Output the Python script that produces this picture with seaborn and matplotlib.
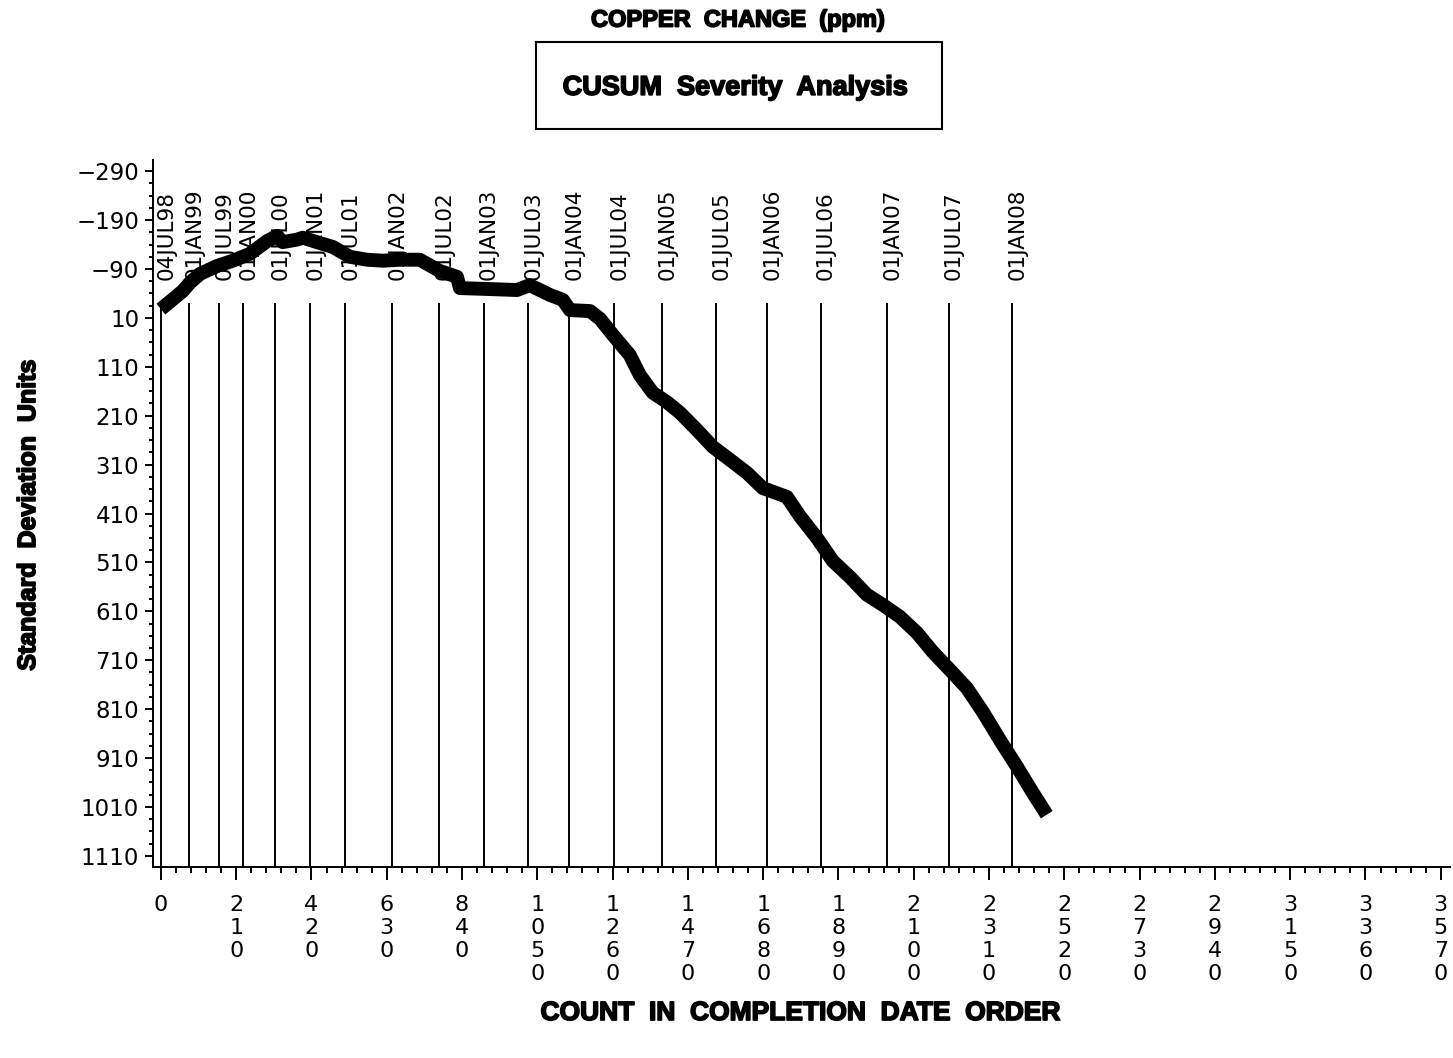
import numpy as np
import pandas as pd
import matplotlib.pyplot as plt
import matplotlib.ticker as mticker
import matplotlib.patheffects as pe
import seaborn as sns

# cusum trace (count, standard deviation units)
count = [0, 25, 61, 81, 109, 156, 201, 248, 296, 324, 340, 379, 396, 435, 480,
         527, 575, 619, 667, 722, 778, 826, 834, 918, 993, 1029, 1085, 1121,
         1141, 1197, 1225, 1261, 1308, 1336, 1372, 1411, 1448, 1495, 1540,
         1587, 1635, 1679, 1746, 1782, 1830, 1874, 1922, 1969, 2014, 2061,
         2109, 2153, 2201, 2248, 2293, 2340, 2388, 2432, 2471]
cusum = [-8, -23, -45, -62, -80, -96, -107, -121, -147, -158, -145, -150, -154,
         -145, -135, -115, -109, -107, -109, -109, -86, -74, -51, -49, -47,
         -57, -37, -27, -6, -4, 12, 45, 86, 127, 163, 182, 204, 239, 274, 300,
         327, 358, 376, 415, 460, 507, 540, 576, 597, 621, 654, 693, 730, 767,
         816, 873, 928, 981, 1026]

# date reference lines
date_labels = ["04JUL98", "01JAN99", "01JUL99", "01JAN00", "01JUL00", "01JAN01",
               "01JUL01", "01JAN02", "01JUL02", "01JAN03", "01JUL03", "01JAN04",
               "01JUL04", "01JAN05", "01JUL05", "01JAN06", "01JUL06", "01JAN07",
               "01JUL07", "01JAN08"]
date_counts = [0, 78, 163, 229, 319, 416, 513, 644, 775, 900, 1025, 1139,
               1264, 1399, 1548, 1690, 1840, 2026, 2197, 2374]

x_ticks = list(range(0, 3571, 210))
y_ticks = list(range(-290, 1111, 100))

df = pd.DataFrame({"count": count, "cusum": cusum})

sns.set_style("ticks")
plt.rcParams["font.family"] = ["DejaVu Sans"]
plt.rcParams["text.color"] = "black"
plt.rcParams["xtick.color"] = "black"
plt.rcParams["ytick.color"] = "black"

fig = plt.figure(figsize=(14.53, 10.58), dpi=100)
ax = fig.add_axes([0.1053, 0.1805, 0.8927, 0.6683])

ymin, ymax = -313, 1133
ax.vlines(date_counts, -21, ymax, color="black", lw=1.4, zorder=1)
for x, lab in zip(date_counts, date_labels):
    ax.annotate(lab, (x, -68), xytext=(4, 0), textcoords="offset points",
                rotation=90, ha="center", va="bottom", fontsize=15.5, zorder=2)

sns.lineplot(data=df, x="count", y="cusum", color="black", lw=10, sort=False,
             ax=ax, zorder=3)
for l in ax.lines:
    l.set_solid_capstyle("butt")
    l.set_solid_joinstyle("round")

ax.set_xlim(-22, 3596)
ax.set_ylim(ymax, ymin)

ax.xaxis.set_major_locator(mticker.FixedLocator(x_ticks))
ax.xaxis.set_major_formatter(mticker.FixedFormatter(["\n".join(str(v)) for v in x_ticks]))
ax.xaxis.set_minor_locator(mticker.MultipleLocator(42))
ax.yaxis.set_major_locator(mticker.FixedLocator(y_ticks))
ax.yaxis.set_major_formatter(mticker.FixedFormatter([str(v).replace("-", "\u2212") for v in y_ticks]))
ax.yaxis.set_minor_locator(mticker.MultipleLocator(25, offset=10))

ax.tick_params(axis="x", which="major", length=9, width=1.4, labelsize=16, pad=11)
ax.tick_params(axis="x", which="minor", length=4, width=1.4)
ax.tick_params(axis="y", which="major", length=6, width=1.4, labelsize=16.5, pad=4)
ax.tick_params(axis="y", which="minor", length=3, width=1.4)

for s in ["top", "right"]:
    ax.spines[s].set_visible(False)
for s in ["left", "bottom"]:
    ax.spines[s].set_linewidth(1.4)
    ax.spines[s].set_color("black")

ax.set_xlabel("")
ax.set_ylabel("")
heavy = [pe.withStroke(linewidth=1.2, foreground="black")]
fig.text(0.5508, 0.0425, "COUNT  IN  COMPLETION  DATE  ORDER", ha="center", va="center",
         fontsize=19, fontweight="bold", family="Liberation Sans", path_effects=heavy)
fig.text(0.0193, 0.513, "Standard  Deviation  Units", rotation=90, ha="center", va="center",
         fontsize=18, fontweight="bold", family="Liberation Sans", path_effects=heavy)
fig.text(0.508, 0.981, "COPPER  CHANGE  (ppm)", ha="center", va="center",
         fontsize=17, fontweight="bold", family="Liberation Sans", path_effects=heavy)
fig.text(0.506, 0.917, "CUSUM  Severity  Analysis", ha="center", va="center",
         fontsize=19.5, fontweight="bold", family="Liberation Sans", path_effects=heavy)
fig.patches.append(plt.Rectangle((536 / 1453, 1 - 129 / 1058), 406 / 1453, 87 / 1058,
                                 transform=fig.transFigure, fill=False, lw=1.5, ec="black"))

fig.savefig("out.png", dpi=100)
